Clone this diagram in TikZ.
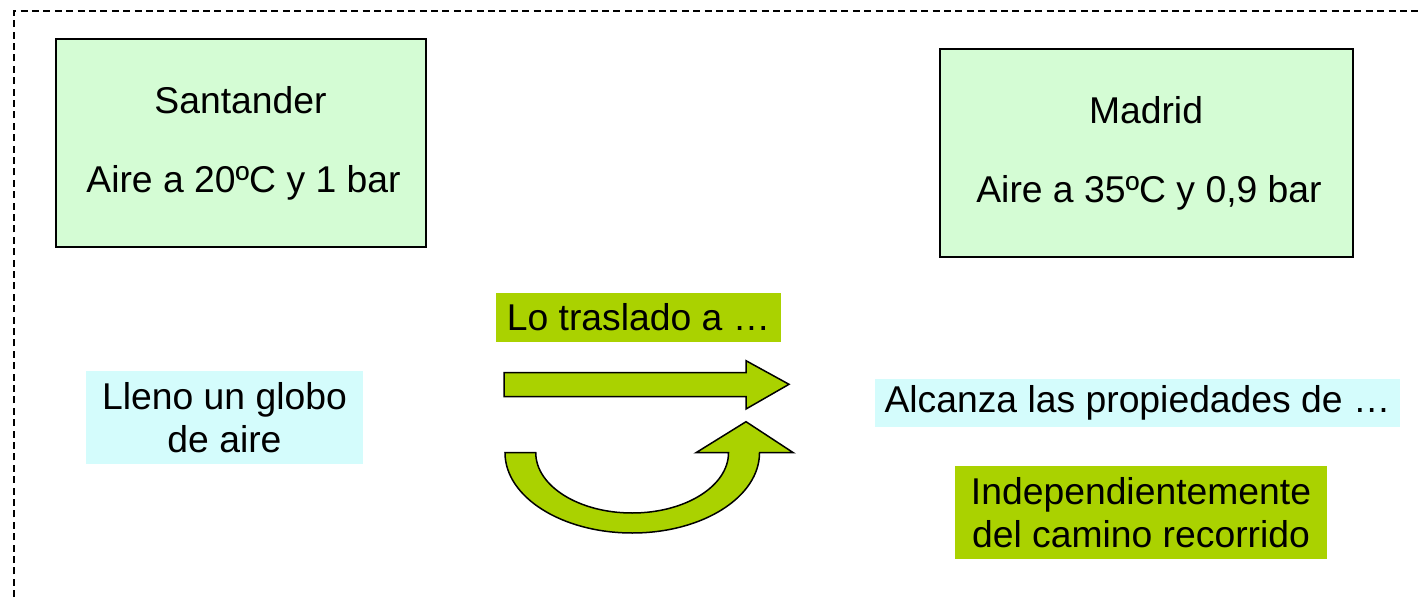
\documentclass[tikz,border=0pt]{standalone}
\usepackage{fontspec}
\setmainfont{Liberation Sans}
\definecolor{boxgreen}{HTML}{D4FCD4}
\definecolor{boxcyan}{HTML}{D4FCFC}
\definecolor{lime}{HTML}{AAD200}
\begin{document}
\begin{tikzpicture}[x=0.5pt,y=0.5pt,
  txt/.style={font=\fontsize{18.65}{21.5}\selectfont, align=center, inner sep=0pt},
  citybox/.style={txt, draw=black, line width=1pt, fill=boxgreen},
  cyanlabel/.style={txt, fill=boxcyan},
  limelabel/.style={txt, fill=lime},
  blockarrow/.style={draw=black, line width=0.75pt, fill=lime, line join=miter}]
\useasboundingbox (0,0) rectangle (1422,600);
\clip (0,0) rectangle (1422,600);
% dashed frame
\draw[line width=0.9pt, dash pattern=on 3.5pt off 2.2pt] (14,-20) rectangle (1450,589);
% city boxes
\node[citybox, minimum width=185pt, minimum height=104pt] (san) at (240.5,456.5)
  {Santander\\[18pt]\hspace{3pt}Aire a 20ºC y 1 bar};
\node[citybox, minimum width=206.5pt, minimum height=104pt] (mad) at (1146,446.5)
  {Madrid\\[18pt]\hspace{3pt}Aire a 35ºC y 0,9 bar};
% labels
\node[limelabel, minimum width=142.5pt, minimum height=24.5pt] (tras) at (638.5,282.5) {Lo traslado a …};
\node[cyanlabel, minimum width=138.5pt, minimum height=46.5pt] (llen) at (224.5,182.5) {Lleno un globo\\de aire};
\node[cyanlabel, minimum width=262.5pt, minimum height=24pt] (alc) at (1137.5,197) {Alcanza las propiedades de …};
\node[limelabel, minimum width=186pt, minimum height=46.5pt] (indep) at (1141,87.5) {Independientemente\\del camino recorrido};
% straight block arrow
\draw[blockarrow] (504,203.3) -- (504,227.3) -- (746,227.3) -- (746,239.3) -- (789,215.7)
  -- (746,191) -- (746,203.3) -- cycle;
% curved block arrow
\draw[blockarrow] (535.75,147.3) -- (505,147.3)
  arc[start angle=180, end angle=360, x radius=127.25, y radius=80.3]
  -- (793.3,147.3) -- (746,178.3) -- (696,147.3) -- (728.5,147.3)
  arc[start angle=0, end angle=-180, x radius=96.375, y radius=60.3] -- cycle;
\end{tikzpicture}
\end{document}
